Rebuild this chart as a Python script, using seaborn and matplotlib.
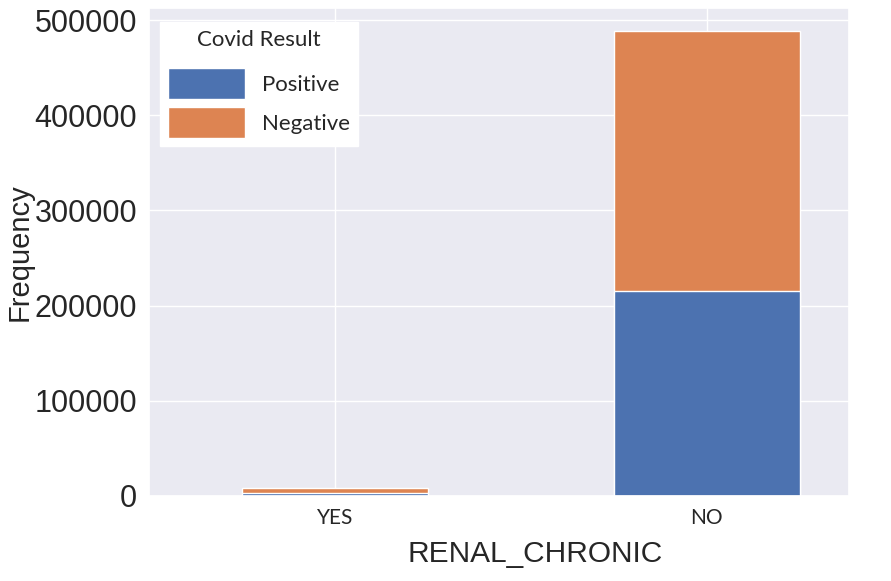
import numpy as np
import pandas as pd
import matplotlib.pyplot as plt
import matplotlib as mpl
from matplotlib.patches import Patch
import seaborn as sns

# %%
# values
categories = ["YES", "NO"]
positive = [3200, 214900]
negative = [5200, 273660]
legend_labels = ["Positive", "Negative"]
legend_title = "Covid Result"

# %%
sns.set_theme(style="darkgrid")
mpl.rcParams["font.family"] = ["Liberation Sans", "DejaVu Sans"]

blue = "#4C72B0"
orange = "#DD8452"

df = pd.DataFrame({"cat": categories, "pos": positive, "neg": negative})
df["total"] = df["pos"] + df["neg"]

fig = plt.figure(figsize=(8.91, 5.81), dpi=100)
ax = fig.add_axes([149 / 891, 85.3 / 581, 700 / 891, 487.7 / 581])

# stacked bars: total (orange) behind, positive (blue) in front
sns.barplot(data=df, x="cat", y="total", order=categories, color=orange,
            saturation=1, width=0.5, edgecolor="white", linewidth=1, ax=ax)
sns.barplot(data=df, x="cat", y="pos", order=categories, color=blue,
            saturation=1, width=0.5, edgecolor="white", linewidth=1, ax=ax)

ax.xaxis.grid(True)
ax.set_axisbelow(True)
ax.set_xlim(-0.5, 1.383)
ax.set_ylim(0, df["total"].max() * 1.05)
ax.set_yticks(np.arange(0, 500001, 100000))
ax.tick_params(axis="y", labelsize=22, length=0, pad=8.5)
ax.tick_params(axis="x", length=0, pad=9)
for lbl in ax.get_xticklabels():
    lbl.set_fontfamily("Lato")
    lbl.set_fontsize(15)

ax.set_ylabel("Frequency", fontsize=21, labelpad=0.5)
ax.set_xlabel("RENAL_CHRONIC", fontsize=21.5)
ax.xaxis.set_label_coords(0.552, -0.09)

handles = [Patch(facecolor=blue, edgecolor="white"),
           Patch(facecolor=orange, edgecolor="white")]
leg = ax.legend(handles, legend_labels, title=legend_title, loc="upper left",
                bbox_to_anchor=(11 / 700, 1 - 14 / 487.7),
                borderaxespad=0, prop={"family": "Lato", "size": 16},
                title_fontproperties={"family": "Lato", "size": 16},
                handlelength=3.46, handleheight=1.77, labelspacing=0.36,
                handletextpad=0.8, borderpad=0.35, fancybox=False,
                framealpha=1, facecolor="white", edgecolor="white")
leg._legend_box.sep = 13

fig.savefig("out.png", dpi=100)
